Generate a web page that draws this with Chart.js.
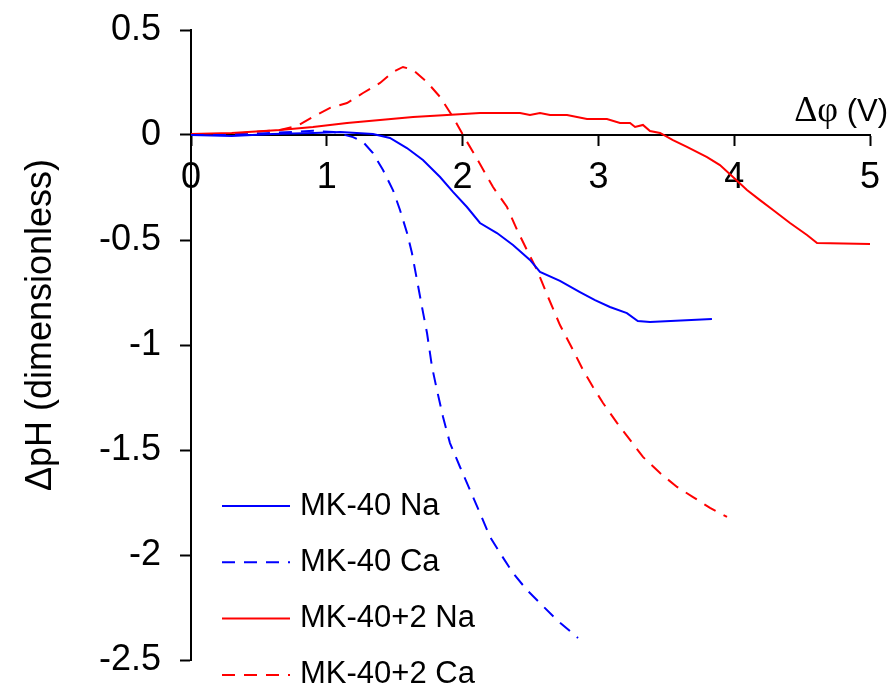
<!DOCTYPE html>
<html>
<head>
<meta charset="utf-8">
<script src="https://cdn.jsdelivr.net/npm/chart.js@4"></script>
<style>
  html, body { margin: 0; padding: 0; background: #fff; }
</style>
</head>
<body>
<canvas id="phChart" width="890" height="684"></canvas>
<script>
// MK-40 membrane, NaCl solution
const naX = [0, 0.3, 0.6, 0.9, 1.1, 1.34, 1.465, 1.59, 1.708, 1.834, 1.929, 2.032, 2.128, 2.253, 2.371, 2.496, 2.57, 2.717, 2.864, 2.975, 3.085, 3.21, 3.29, 3.38, 3.836];
const naY = [0, -0.005, 0.005, 0.01, 0.014, 0.005, -0.014, -0.062, -0.119, -0.2, -0.271, -0.343, -0.419, -0.467, -0.524, -0.595, -0.652, -0.695, -0.748, -0.786, -0.819, -0.848, -0.886, -0.89, -0.876];

// MK-40 membrane, CaCl2 solution
const caX = [0, 0.3, 0.6, 0.9, 1.05, 1.193, 1.267, 1.34, 1.414, 1.487, 1.539, 1.591, 1.627, 1.664, 1.701, 1.738, 1.775, 1.811, 1.856, 1.907, 1.981, 2.054, 2.128, 2.202, 2.275, 2.371, 2.474, 2.57, 2.695, 2.85];
const caY = [0, 0, 0.01, 0.02, 0.014, -0.01, -0.033, -0.086, -0.167, -0.262, -0.357, -0.467, -0.562, -0.69, -0.819, -0.943, -1.105, -1.214, -1.343, -1.467, -1.581, -1.69, -1.8, -1.914, -1.99, -2.086, -2.167, -2.229, -2.31, -2.395];

// MK-40+2 membrane, NaCl solution
const na2X = [0, 0.3, 0.655, 0.898, 1.149, 1.392, 1.635, 1.885, 2.128, 2.423, 2.496, 2.57, 2.644, 2.769, 2.916, 3.063, 3.159, 3.233, 3.27, 3.328, 3.38, 3.454, 3.549, 3.652, 3.8, 3.895, 3.991, 4.094, 4.19, 4.286, 4.411, 4.536, 4.61, 5.0];
const na2Y = [0.005, 0.01, 0.024, 0.038, 0.057, 0.071, 0.086, 0.095, 0.105, 0.105, 0.095, 0.105, 0.095, 0.095, 0.076, 0.076, 0.057, 0.057, 0.038, 0.048, 0.019, 0.01, -0.024, -0.057, -0.105, -0.143, -0.2, -0.262, -0.31, -0.357, -0.419, -0.476, -0.514, -0.519];

// MK-40+2 membrane, CaCl2 solution
const ca2X = [0, 0.3, 0.655, 0.781, 0.898, 1.024, 1.149, 1.267, 1.392, 1.487, 1.561, 1.635, 1.738, 1.834, 1.929, 2.003, 2.128, 2.224, 2.327, 2.401, 2.474, 2.548, 2.629, 2.717, 2.813, 2.887, 2.96, 3.034, 3.137, 3.233, 3.328, 3.454, 3.579, 3.697, 3.822, 3.947];
const ca2Y = [0, 0.005, 0.024, 0.043, 0.086, 0.129, 0.152, 0.2, 0.248, 0.3, 0.324, 0.31, 0.252, 0.181, 0.086, 0, -0.138, -0.248, -0.343, -0.452, -0.548, -0.643, -0.771, -0.905, -1.024, -1.119, -1.2, -1.276, -1.371, -1.452, -1.533, -1.61, -1.676, -1.724, -1.776, -1.819];

const seriesNames = ["MK-40 Na", "MK-40 Ca", "MK-40+2 Na", "MK-40+2 Ca"];
const xTitle = ["Δφ", "(V)"];
const yTitle = "ΔpH (dimensionless)";

const SANS = "'Liberation Sans', Arial, sans-serif";
const SERIF = "'Liberation Serif', 'Times New Roman', serif";
const DASH = [13, 9];

const toPoints = (xs, ys) => xs.map((x, i) => ({ x: x, y: ys[i] }));

const makeLine = (label, xs, ys, color, dashed) => ({
  label: label,
  data: toPoints(xs, ys),
  borderColor: color,
  backgroundColor: color,
  borderWidth: 2,
  borderDash: dashed ? DASH : [],
  pointRadius: 0,
  tension: 0,
  fill: false,
});

// axis titles and the legend block are drawn by hand
const decorations = {
  id: "decorations",
  afterDraw(chart) {
    const ctx = chart.ctx;
    ctx.save();
    ctx.fillStyle = "#000";

    // x title, above the axis at the right end
    ctx.textBaseline = "alphabetic";
    ctx.textAlign = "right";
    ctx.font = "31px " + SANS;
    ctx.fillText(xTitle[1], 888, 121);
    const unitW = ctx.measureText(" " + xTitle[1]).width;
    ctx.font = "36px " + SERIF;
    ctx.fillText(xTitle[0], 888 - unitW, 121);

    // y title, rotated
    ctx.translate(41, 325);
    ctx.rotate(-Math.PI / 2);
    ctx.textAlign = "center";
    ctx.textBaseline = "middle";
    ctx.font = "36px " + SANS;
    ctx.fillText(yTitle, 0, 0);
    ctx.restore();

    // legend
    ctx.save();
    ctx.font = "31px " + SANS;
    ctx.textAlign = "left";
    ctx.textBaseline = "middle";
    chart.data.datasets.forEach((ds, i) => {
      const y = 506 + i * 56.3;
      ctx.strokeStyle = ds.borderColor;
      ctx.lineWidth = 2;
      ctx.setLineDash(ds.borderDash);
      ctx.beginPath();
      ctx.moveTo(222, y);
      ctx.lineTo(290, y);
      ctx.stroke();
      ctx.setLineDash([]);
      ctx.fillStyle = "#000";
      ctx.fillText(ds.label, 300, y);
    });
    ctx.restore();
  },
};

const chartPh = new Chart(document.getElementById("phChart"), {
  type: "line",
  data: {
    datasets: [
      makeLine(seriesNames[0], naX, naY, "#0000ff", false),
      makeLine(seriesNames[1], caX, caY, "#0000ff", true),
      makeLine(seriesNames[2], na2X, na2Y, "#ff0000", false),
      makeLine(seriesNames[3], ca2X, ca2Y, "#ff0000", true),
    ],
  },
  options: {
    responsive: false,
    animation: false,
    layout: { padding: { top: 30, right: 20, bottom: 24, left: 0 } },
    plugins: {
      legend: { display: false },
      tooltip: { enabled: false },
    },
    scales: {
      x: {
        type: "linear",
        min: 0,
        max: 5,
        position: { y: 0 },
        border: { display: true, color: "#000", width: 2 },
        grid: { drawOnChartArea: false, drawTicks: true, tickLength: 10, tickColor: "#000", tickWidth: 2 },
        ticks: {
          stepSize: 1,
          color: "#000",
          padding: 11,
          maxRotation: 0,
          font: { family: SANS, size: 36 },
          callback: (v) => String(v),
        },
        afterFit: (scale) => {
          // edge labels may overhang; the layout padding already covers them
          scale.paddingLeft = 0;
          scale.paddingRight = 0;
        },
      },
      y: {
        type: "linear",
        min: -2.5,
        max: 0.5,
        position: "left",
        border: { display: true, color: "#000", width: 2 },
        grid: { drawOnChartArea: false, drawTicks: true, tickLength: 11, tickColor: "#000", tickWidth: 2 },
        ticks: {
          stepSize: 0.5,
          color: "#000",
          padding: 19,
          font: { family: SANS, size: 36 },
          callback: (v) => String(Math.round(v * 10) / 10),
        },
        afterFit: (scale) => {
          scale.width = 191;
          scale.paddingTop = 0;
          scale.paddingBottom = 0;
        },
      },
    },
  },
  plugins: [decorations],
});
</script>
</body>
</html>
